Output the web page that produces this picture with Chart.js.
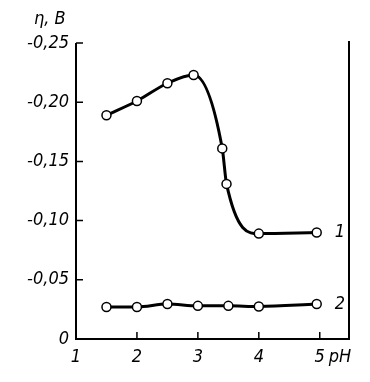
<!DOCTYPE html>
<html>
<head>
<meta charset="utf-8">
<script src="https://cdn.jsdelivr.net/npm/chart.js@4/dist/chart.umd.min.js"></script>
<style>
  html, body { margin: 0; padding: 0; background: #fff; }
  #wrap { width: 370px; height: 382px; }
</style>
</head>
<body>
<div id="wrap"><canvas id="myChart" width="370" height="382"></canvas></div>
<script>
"use strict";

// pH values and overpotential (V)
const ph1 = [1.5, 2.0, 2.5, 2.93, 3.4, 3.47, 4.0, 4.95];
const eta1 = [-0.189, -0.201, -0.216, -0.223, -0.161, -0.131, -0.089, -0.090];
const ph2 = [1.5, 2.0, 2.5, 3.0, 3.5, 4.0, 4.95];
const eta2 = [-0.027, -0.027, -0.0295, -0.028, -0.028, -0.0275, -0.0295];
const xTicks = [1, 2, 3, 4, 5];
const yTicks = [-0.25, -0.2, -0.15, -0.1, -0.05, 0];
const curveNames = ["1", "2"];

const FONT = "'Liberation Sans Narrow', 'DejaVu Sans Condensed', sans-serif";

const toPts = (xs, ys) => xs.map((x, i) => ({ x: x, y: ys[i] }));

function fmtY(v) {
  if (Math.abs(v) < 1e-9) return "0";
  return "-" + Math.abs(v).toFixed(2).replace(".", ",");
}

const frame = {
  id: "frame",
  afterDraw(chart) {
    const ctx = chart.ctx;
    const a = chart.chartArea;
    const xs = chart.scales.x;
    const ys = chart.scales.y;
    ctx.save();
    ctx.strokeStyle = "#000";
    ctx.lineWidth = 2;
    ctx.beginPath();
    ctx.moveTo(a.left, a.top);
    ctx.lineTo(a.left, a.bottom);
    ctx.lineTo(a.right, a.bottom);
    ctx.lineTo(a.right, a.top - 2);
    ctx.stroke();
    // inward ticks
    ctx.lineWidth = 1.5;
    ctx.beginPath();
    xTicks.forEach((t) => {
      const px = xs.getPixelForValue(t);
      ctx.moveTo(px, a.bottom);
      ctx.lineTo(px, a.bottom - 7);
    });
    yTicks.forEach((t) => {
      const py = ys.getPixelForValue(t);
      ctx.moveTo(a.left, py);
      ctx.lineTo(a.left + 7, py);
    });
    ctx.stroke();
    // texts
    ctx.fillStyle = "#000";
    ctx.font = "italic 18px " + FONT;
    ctx.textBaseline = "middle";
    ctx.textAlign = "left";
    ctx.fillText("η, В", 34, 19);
    ctx.fillText("pH", xs.getPixelForValue(5) + 9, a.bottom + 18);
    chart.data.datasets.forEach((ds, i) => {
      const last = ds.data[ds.data.length - 1];
      ctx.fillText(curveNames[i], xs.getPixelForValue(last.x) + 18, ys.getPixelForValue(last.y));
    });
    ctx.restore();
  },
};

const common = {
  borderColor: "#000",
  borderWidth: 3,
  pointRadius: 4.5,
  pointBackgroundColor: "#fff",
  pointBorderColor: "#000",
  pointBorderWidth: 1.5,
  cubicInterpolationMode: "monotone",
  fill: false,
};

new Chart("myChart", {
  type: "line",
  data: {
    datasets: [
      Object.assign({ label: curveNames[0], data: toPts(ph1, eta1) }, common),
      Object.assign({ label: curveNames[1], data: toPts(ph2, eta2) }, common),
    ],
  },
  options: {
    responsive: false,
    animation: false,
    layout: { padding: { left: 0, right: 21, top: 43, bottom: 0 } },
    plugins: { legend: { display: false }, tooltip: { enabled: false } },
    scales: {
      x: {
        type: "linear",
        min: 1,
        max: 5.48,
        afterBuildTicks: (s) => { s.ticks = xTicks.map((v) => ({ value: v })); },
        afterFit: (s) => { s.height = 43; },
        grid: { display: false, drawTicks: false },
        border: { display: false },
        ticks: {
          padding: 8,
          color: "#000",
          font: { family: FONT, size: 18, style: "italic" },
          maxRotation: 0,
        },
      },
      y: {
        type: "linear",
        reverse: true,
        min: -0.25,
        max: 0,
        afterBuildTicks: (s) => { s.ticks = yTicks.map((v) => ({ value: v })); },
        afterFit: (s) => { s.width = 76; },
        grid: { display: false, drawTicks: false },
        border: { display: false },
        ticks: {
          padding: 7,
          color: "#000",
          font: { family: FONT, size: 18, style: "italic" },
          callback: (v) => fmtY(v),
        },
      },
    },
  },
  plugins: [frame],
});
</script>
</body>
</html>
